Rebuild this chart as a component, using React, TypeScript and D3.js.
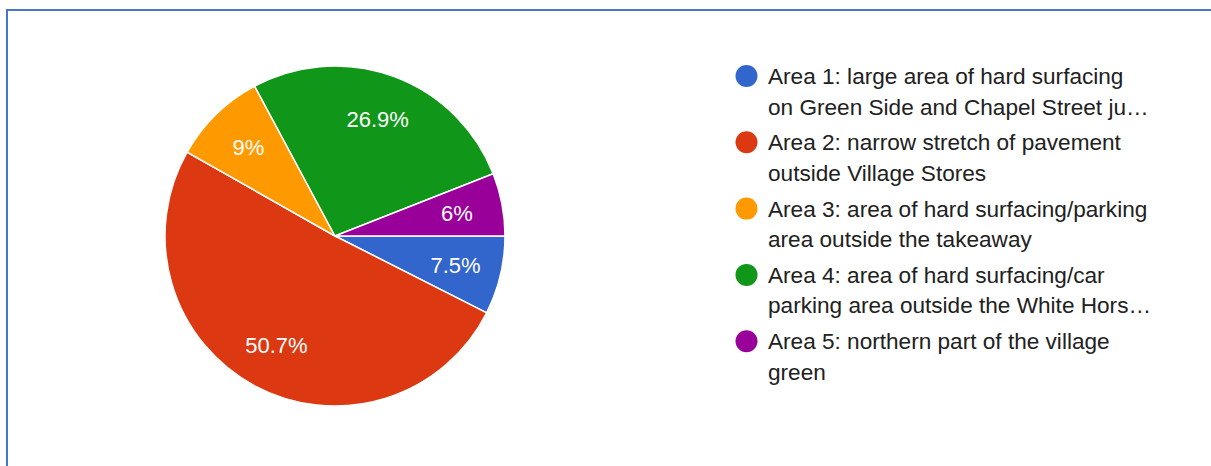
import React from 'react';
import * as d3 from 'd3';

const areas = ['Area 1', 'Area 2', 'Area 3', 'Area 4', 'Area 5'];
const responses = [5, 34, 6, 18, 4];
const legendLines = [
  ['Area 1: large area of hard surfacing', 'on Green Side and Chapel Street ju…'],
  ['Area 2: narrow stretch of pavement', 'outside Village Stores'],
  ['Area 3: area of hard surfacing/parking', 'area outside the takeaway'],
  ['Area 4: area of hard surfacing/car', 'parking area outside the White Hors…'],
  ['Area 5: northern part of the village', 'green'],
];
const colors = ['#3366cc', '#dc3912', '#ff9900', '#109618', '#990099'];

const W = 1211;
const H = 466;
const FONT = 'Arial, "Liberation Sans", sans-serif';

const App: React.FC = () => {
  const cx = 335;
  const cy = 236;
  const r = 170;

  const total = d3.sum(responses);
  const pie = d3.pie<number>()
    .sort(null)
    .startAngle(Math.PI / 2)
    .endAngle(Math.PI / 2 + Math.PI * 2);
  const arcs = pie(responses);
  const arc = d3.arc<d3.PieArcDatum<number>>().innerRadius(0).outerRadius(r);
  const labelArc = d3.arc<d3.PieArcDatum<number>>().innerRadius(124).outerRadius(124);

  const fmt = (v: number) => {
    const p = Math.round((v / total) * 1000) / 10;
    return `${p}%`;
  };

  const legendY = d3.scaleBand<string>()
    .domain(areas)
    .range([43, 43 + 66.3 * areas.length]);

  return (
    <svg width={W} height={H}
      style={{ display: 'block', position: 'absolute', left: 0, top: 0 }}
      fontFamily={FONT}>
      <rect x={0} y={0} width={W} height={H} fill="#fff" />
      {/* frame */}
      <line x1={6} y1={10} x2={W} y2={10} stroke="#4a76c9" strokeWidth={2} />
      <line x1={7} y1={9} x2={7} y2={H} stroke="#4a76c9" strokeWidth={2} />

      <g transform={`translate(${cx},${cy})`}>
        {arcs.map((a, i) => (
          <path key={areas[i]} d={arc(a) || ''} fill={colors[i]} stroke="#fff" strokeWidth={1.5} />
        ))}
        {arcs.map((a, i) => {
          const [x, y] = labelArc.centroid(a);
          return (
            <text key={'l' + i} x={x} y={y} dy="0.35em" textAnchor="middle"
              fill="#fff" fontSize={22}>
              {fmt(a.data)}
            </text>
          );
        })}
      </g>

      <g>
        {areas.map((a, i) => {
          const y0 = (legendY(a) || 0) + 33;
          return (
            <g key={a}>
              <circle cx={746.5} cy={y0} r={11} fill={colors[i]} />
              {legendLines[i].map((t, j) => (
                <text key={j} x={768} y={y0 + 8 + j * 30.5} fontSize={22.6} fill="#212121">
                  {t}
                </text>
              ))}
            </g>
          );
        })}
      </g>
    </svg>
  );
};

export default App;
